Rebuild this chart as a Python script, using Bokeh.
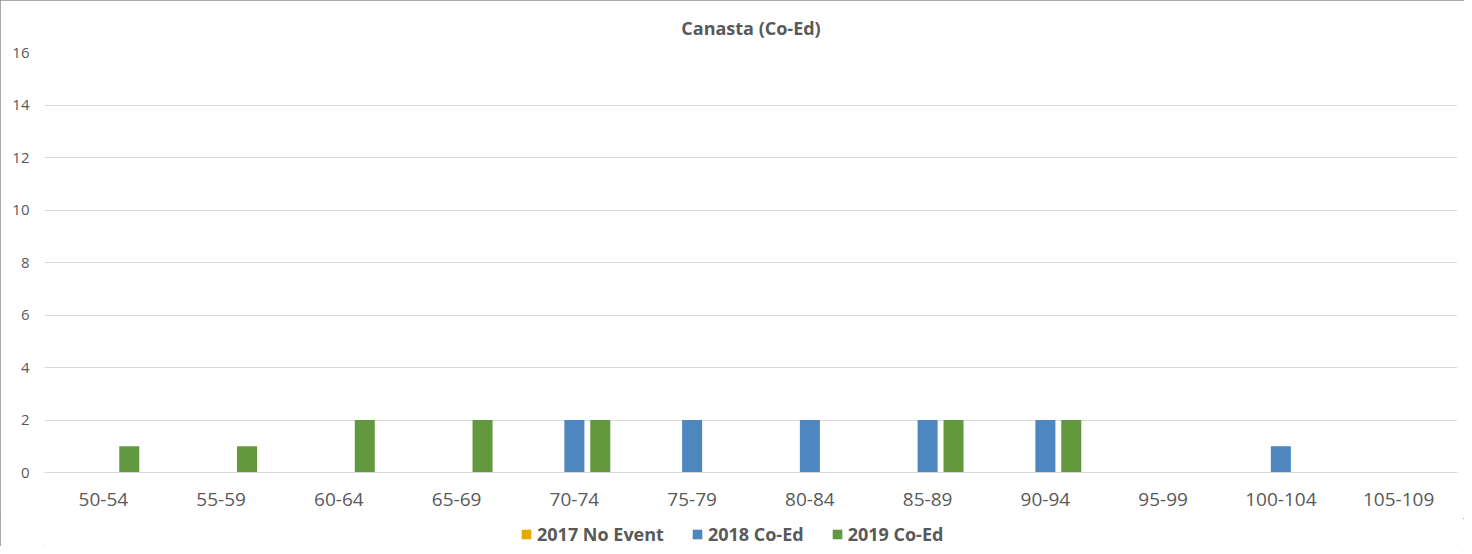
from bokeh.plotting import figure
from bokeh.models import (ColumnDataSource, FactorRange, Range1d, FixedTicker,
                          Legend, LegendItem, Title)
from bokeh.layouts import column
from bokeh.transform import dodge
from bokeh.embed import file_html
from bokeh.resources import INLINE

categories = ["50-54", "55-59", "60-64", "65-69", "70-74", "75-79",
              "80-84", "85-89", "90-94", "95-99", "100-104", "105-109"]
s2017 = [0, 0, 0, 0, 0, 0, 0, 0, 0, 0, 0, 0]
s2018 = [0, 0, 0, 0, 2, 2, 2, 2, 2, 0, 1, 0]
s2019 = [1, 1, 2, 2, 2, 0, 0, 2, 2, 0, 0, 0]
series_names = ["2017 No Event", "2018 Co-Ed", "2019 Co-Ed"]
y_ticks = [0, 2, 4, 6, 8, 10, 12, 14, 16]

colors = ["#E5A800", "#4E86BF", "#62993E"]
FONT = "Open Sans"
TXT = "#595959"

src = ColumnDataSource(dict(cat=categories, a=s2017, b=s2018, c=s2019))

p = figure(x_range=FactorRange(*categories), y_range=Range1d(0, 16),
           frame_width=1413, frame_height=420,
           output_backend="svg", toolbar_location=None,
           min_border_left=44, min_border_right=7, min_border_top=52,
           min_border_bottom=46, outline_line_color=None)
p.x_range.range_padding = 0

p.title = Title(text="Canasta (Co-Ed)", align="center", text_font=FONT,
                text_font_size="18px", text_font_style="bold", text_color=TXT,
                standoff=26)

offsets = [-0.22, 0.0, 0.22]
for col, off, colr in zip(["a", "b", "c"], offsets, colors):
    p.vbar(x=dodge("cat", off, range=p.x_range), top=col, width=0.17,
           source=src, fill_color=colr, line_color=None)

p.yaxis.ticker = FixedTicker(ticks=y_ticks)
p.yaxis.axis_line_color = None
p.yaxis.major_tick_line_color = None
p.yaxis.minor_tick_line_color = None
p.yaxis.major_label_standoff = 9
p.yaxis.major_label_text_font = FONT
p.yaxis.major_label_text_font_size = "15px"
p.yaxis.major_label_text_color = TXT

p.xaxis.axis_line_color = "#D9D9D9"
p.xaxis.major_tick_line_color = None
p.xaxis.minor_tick_line_color = None
p.xaxis.major_label_standoff = 14
p.xaxis.major_label_text_font = FONT
p.xaxis.major_label_text_font_size = "19px"
p.xaxis.major_label_text_color = TXT

p.xgrid.grid_line_color = None
p.ygrid.grid_line_color = "#D9D9D9"
p.ygrid.grid_line_width = 1

# legend strip below the chart
lf = figure(x_range=p.x_range, y_range=Range1d(0, 1), width=1464, height=28,
            output_backend="svg", toolbar_location=None,
            x_axis_location=None, y_axis_location=None,
            min_border_left=0, min_border_right=0, min_border_top=0,
            min_border_bottom=0, outline_line_color=None)
lf.xgrid.grid_line_color = None
lf.ygrid.grid_line_color = None
leg_renderers = []
for col, off, colr in zip(["a", "b", "c"], offsets, colors):
    r = lf.vbar(x=dodge("cat", off, range=p.x_range), top=col, width=0.17,
                source=src, fill_color=colr, line_color=None, visible=False)
    leg_renderers.append(r)

legend = Legend(items=[LegendItem(label=n, renderers=[r])
                       for n, r in zip(series_names, leg_renderers)],
                orientation="horizontal", location=(476, 0),
                glyph_width=12, glyph_height=12, label_standoff=5, spacing=27,
                label_text_font=FONT, label_text_font_size="18px",
                label_text_font_style="bold", label_text_color=TXT,
                border_line_color=None, background_fill_alpha=0,
                inactive_fill_alpha=0,
                padding=0, margin=0)
lf.add_layout(legend, "center")

layout = column(p, lf, spacing=0)
layout.styles = {"outline": "1px solid #8C8C8C", "outline-offset": "-1px"}

open("out.html", "w").write(file_html(layout, INLINE))
